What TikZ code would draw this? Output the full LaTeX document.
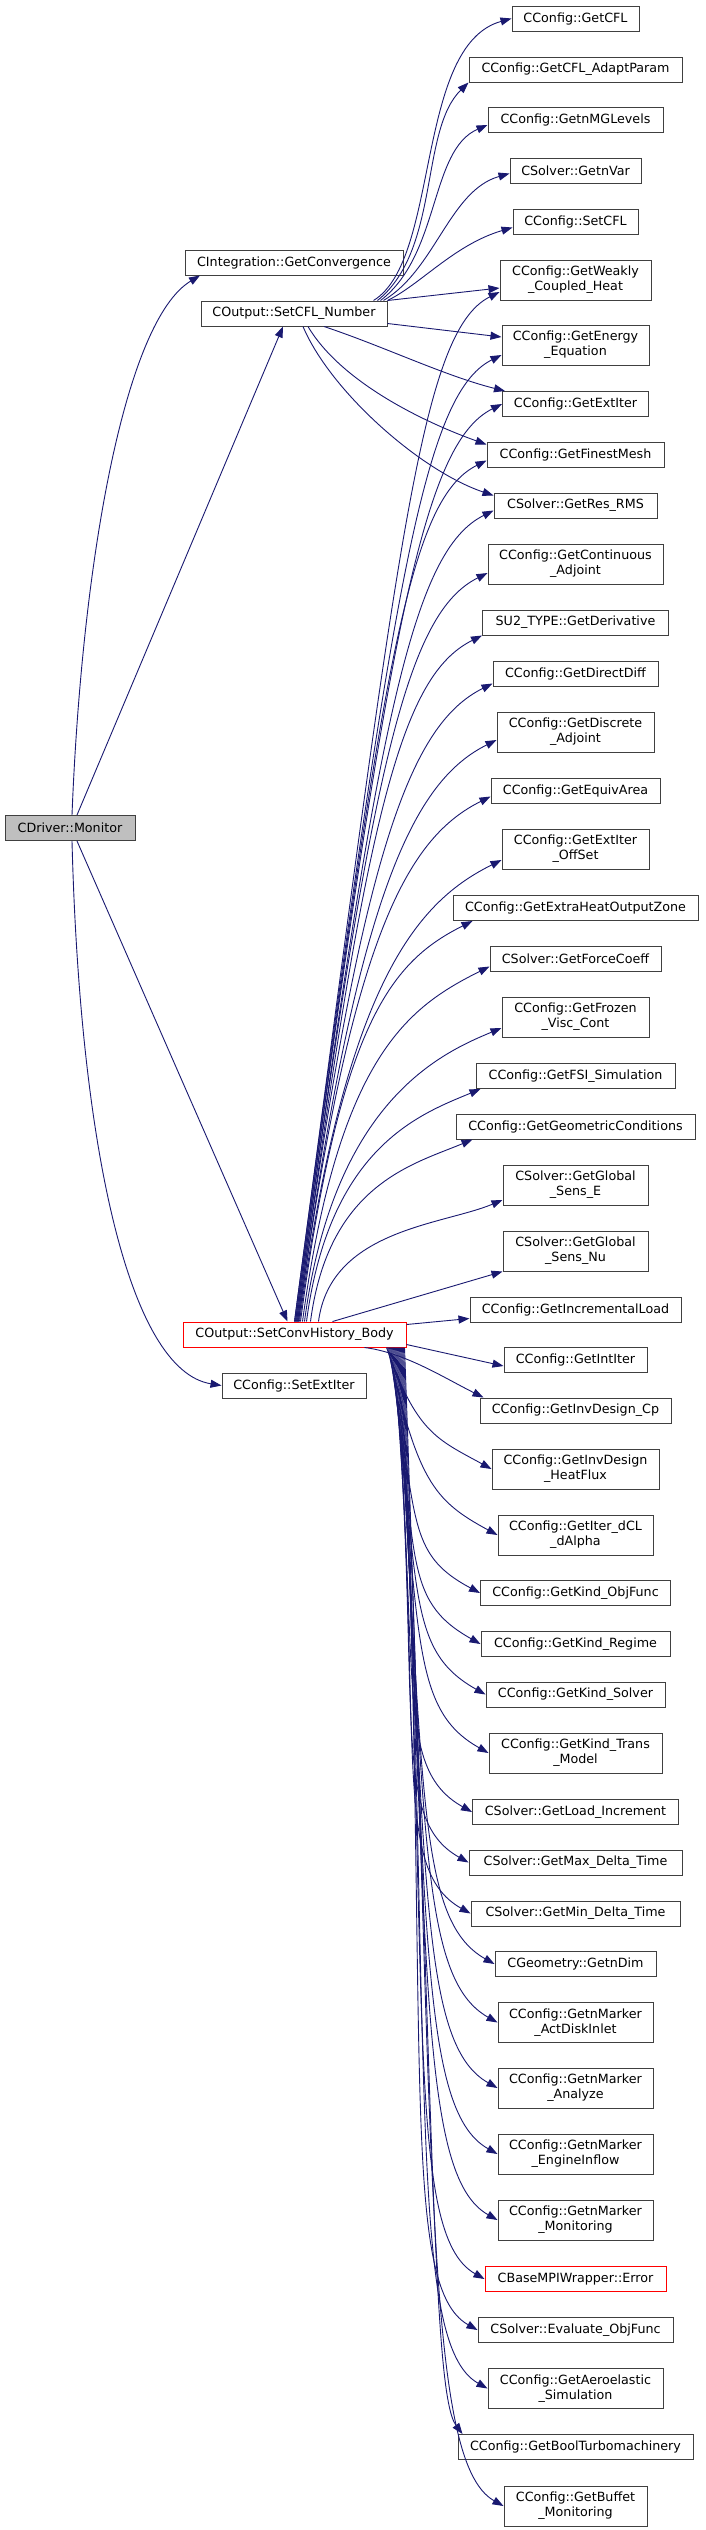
\documentclass[tikz,border=0pt]{standalone}
\usepackage{fontspec}
\newfontfamily\dxfont{DejaVu Sans}
\usetikzlibrary{arrows.meta}
\definecolor{dxblue}{RGB}{25, 25, 112}
\definecolor{dxgray}{RGB}{64, 64, 64}
\definecolor{dxred}{RGB}{255, 0, 0}
\definecolor{dxroot}{RGB}{191, 191, 191}

\tikzset{
  fn/.style={draw=dxgray, fill=white, line width=1pt, inner sep=0pt,
    minimum height=25pt, align=center,
    font=\dxfont\fontsize{12.7}{15}\selectfont},
  fntwo/.style={fn, minimum height=40pt},
  fntrunc/.style={fn, draw=dxred},
  fnroot/.style={fn, fill=dxroot},
  call/.style={->, draw=dxblue, line width=0.9pt}
}

\begin{document}
\begin{tikzpicture}[x=1pt, y=-1pt, >={Triangle[length=11pt, width=8pt]}]

\useasboundingbox (0,0) rectangle (705,2530);

% ============================================================
% CALLERS (left and middle)
% ============================================================

\node[fnroot, minimum width=130pt] (monitor) at (70,828) {CDriver::Monitor};
\node[fn, minimum width=218pt] (conv) at (294,262.5) {CIntegration::GetConvergence};
\node[fn, minimum width=186pt] (setcfl) at (294,313.5) {COutput::SetCFL\_Number};
\node[fntrunc, minimum width=223pt] (hist) at (294.5,1334.5) {COutput::SetConvHistory\_Body};
\node[fn, minimum width=144pt] (setext) at (294,1385.5) {CConfig::SetExtIter};

% ============================================================
% CALLEES (right column)
% ============================================================

\node[fn, minimum width=127pt] (cfl) at (575.5,18.5) {CConfig::GetCFL};
\node[fn, minimum width=213pt] (cfladapt) at (575.5,69.5) {CConfig::GetCFL\_AdaptParam};
\node[fn, minimum width=175pt] (nmg) at (575.5,120) {CConfig::GetnMGLevels};
\node[fn, minimum width=131pt] (nvar) at (575.5,170.5) {CSolver::GetnVar};
\node[fn, minimum width=125pt] (setcflc) at (575.5,221.5) {CConfig::SetCFL};
\node[fntwo, minimum width=151pt] (weakly) at (575.5,280) {CConfig::GetWeakly\\\_Coupled\_Heat};
\node[fntwo, minimum width=147pt] (energy) at (575.5,345) {CConfig::GetEnergy\\\_Equation};
\node[fn, minimum width=146pt] (extiter) at (575.5,404) {CConfig::GetExtIter};
\node[fn, minimum width=177pt] (finest) at (575.5,454.5) {CConfig::GetFinestMesh};
\node[fn, minimum width=163pt] (resrms) at (575.5,505.5) {CSolver::GetRes\_RMS};
\node[fntwo, minimum width=175pt] (contadj) at (575.5,564) {CConfig::GetContinuous\\\_Adjoint};
\node[fn, minimum width=186pt] (deriv) at (575.5,622.5) {SU2\_TYPE::GetDerivative};
\node[fn, minimum width=165pt] (directdiff) at (575.5,673.5) {CConfig::GetDirectDiff};
\node[fntwo, minimum width=157pt] (discadj) at (575.5,732) {CConfig::GetDiscrete\\\_Adjoint};
\node[fn, minimum width=169pt] (equiv) at (575.5,790.5) {CConfig::GetEquivArea};
\node[fntwo, minimum width=147pt] (extoff) at (575.5,849) {CConfig::GetExtIter\\\_OffSet};
\node[fn, minimum width=245pt] (extraheat) at (575.5,908) {CConfig::GetExtraHeatOutputZone};
\node[fn, minimum width=171pt] (forcecoeff) at (575.5,958.5) {CSolver::GetForceCoeff};
\node[fntwo, minimum width=147pt] (frozen) at (575.5,1017) {CConfig::GetFrozen\\\_Visc\_Cont};
\node[fn, minimum width=199pt] (fsi) at (575.5,1076) {CConfig::GetFSI\_Simulation};
\node[fn, minimum width=239pt] (geomcond) at (575.5,1126.5) {CConfig::GetGeometricConditions};
\node[fntwo, minimum width=145pt] (senseE) at (575.5,1185) {CSolver::GetGlobal\\\_Sens\_E};
\node[fntwo, minimum width=145pt] (senseNu) at (575.5,1251) {CSolver::GetGlobal\\\_Sens\_Nu};
\node[fn, minimum width=211pt] (incload) at (575.5,1309.5) {CConfig::GetIncrementalLoad};
\node[fn, minimum width=143pt] (intiter) at (575.5,1360) {CConfig::GetIntIter};
\node[fn, minimum width=191pt] (invcp) at (575.5,1410.5) {CConfig::GetInvDesign\_Cp};
\node[fntwo, minimum width=167pt] (invheat) at (575.5,1469) {CConfig::GetInvDesign\\\_HeatFlux};
\node[fntwo, minimum width=155pt] (iterdcl) at (575.5,1535) {CConfig::GetIter\_dCL\\\_dAlpha};
\node[fn, minimum width=190pt] (objfunc) at (575.5,1593) {CConfig::GetKind\_ObjFunc};
\node[fn, minimum width=189pt] (regime) at (575.5,1644) {CConfig::GetKind\_Regime};
\node[fn, minimum width=179pt] (ksolver) at (575.5,1694.5) {CConfig::GetKind\_Solver};
\node[fntwo, minimum width=173pt] (trans) at (575.5,1753) {CConfig::GetKind\_Trans\\\_Model};
\node[fn, minimum width=206pt] (loadinc) at (575.5,1812) {CSolver::GetLoad\_Increment};
\node[fn, minimum width=213pt] (maxdt) at (575.5,1862.5) {CSolver::GetMax\_Delta\_Time};
\node[fn, minimum width=209pt] (mindt) at (575.5,1913.5) {CSolver::GetMin\_Delta\_Time};
\node[fn, minimum width=161pt] (ndim) at (575.5,1964) {CGeometry::GetnDim};
\node[fntwo, minimum width=155pt] (actdisk) at (575.5,2022.5) {CConfig::GetnMarker\\\_ActDiskInlet};
\node[fntwo, minimum width=155pt] (analyze) at (575.5,2088) {CConfig::GetnMarker\\\_Analyze};
\node[fntwo, minimum width=155pt] (engine) at (575.5,2154) {CConfig::GetnMarker\\\_EngineInflow};
\node[fntwo, minimum width=155pt] (mrkmon) at (575.5,2220) {CConfig::GetnMarker\\\_Monitoring};
\node[fntrunc, minimum width=181pt] (mpierr) at (575.5,2279) {CBaseMPIWrapper::Error};
\node[fn, minimum width=195pt] (evalobj) at (575.5,2330) {CSolver::Evaluate\_ObjFunc};
\node[fntwo, minimum width=175pt] (aeroel) at (575.5,2388.5) {CConfig::GetAeroelastic\\\_Simulation};
\node[fn, minimum width=235pt] (turbo) at (575.5,2447) {CConfig::GetBoolTurbomachinery};
\node[fntwo, minimum width=143pt] (buffet) at (575.5,2506) {CConfig::GetBuffet\\\_Monitoring};

% ============================================================
% CDriver::Monitor
% ============================================================

\draw[call] ([xshift=2pt]monitor.north) .. controls +(10,-255) and +(-75,45) .. ([xshift=-94pt]conv.south);
\draw[call] ([xshift=7pt]monitor.north) -- ([xshift=-11pt]setcfl.south);
\draw[call] ([xshift=7pt]monitor.south) -- ([xshift=-7pt]hist.north);
\draw[call] ([xshift=2pt]monitor.south) .. controls +(8,309) and +(-92,-15) .. (setext.west);

% ============================================================
% COutput::SetCFL_Number
% ============================================================

\draw[call] ([xshift=-14pt]setcfl.north east) .. controls +(67,-41) and +(-97,27) .. (cfl.west);
\draw[call] ([xshift=-10pt]setcfl.north east) .. controls +(63,-51) and +(-49,48) .. (cfladapt.south west);
\draw[call] ([xshift=-7pt]setcfl.north east) .. controls +(60,-46) and +(-58,25) .. ([yshift=-5pt]nmg.west);
\draw[call] ([xshift=-4pt]setcfl.north east) .. controls +(52,-31) and +(-60,17) .. ([yshift=-3pt]nvar.west);
\draw[call] (setcfl.north east) .. controls +(33,-16) and +(-58,17) .. ([yshift=-6pt]setcflc.west);
\draw[call] (setcfl.north east) -- ([yshift=-8pt]weakly.west);
\draw[call] ([yshift=-10pt]setcfl.east) -- ([yshift=8pt]energy.west);
\draw[call] ([xshift=30pt]setcfl.south) .. controls +(60,20) and +(-60,-15) .. ([xshift=3pt]extiter.north west);
\draw[call] ([xshift=14pt]setcfl.south) .. controls +(32,54) and +(-67,-24) .. ([yshift=10pt]finest.west);
\draw[call] ([xshift=9pt]setcfl.south) .. controls +(27,64) and +(-74,-25) .. ([yshift=10pt]resrms.west);

% ============================================================
% COutput::SetConvHistory_Body -- upwards
% ============================================================

\draw[call] (hist.north) .. controls +(103,-773) and +(-80,40) .. ([yshift=-12pt]weakly.west);
\draw[call] (hist.north) .. controls +(97,-725) and +(-80,40) .. ([yshift=-10pt]energy.west);
\draw[call] ([xshift=1pt]hist.north) .. controls +(92,-689) and +(-80,40) .. (extiter.west);
\draw[call] ([xshift=1pt]hist.north) .. controls +(86,-646) and +(-80,40) .. ([yshift=-6pt]finest.west);
\draw[call] ([xshift=2pt]hist.north) .. controls +(81,-609) and +(-80,40) .. ([yshift=-5pt]resrms.west);
\draw[call] ([xshift=2pt]hist.north) .. controls +(75,-562) and +(-80,40) .. ([yshift=-9pt]contadj.west);
\draw[call] ([xshift=3pt]hist.north) .. controls +(69,-515) and +(-80,40) .. (deriv.south west);
\draw[call] ([xshift=3pt]hist.north) .. controls +(64,-479) and +(-80,40) .. ([yshift=3pt]directdiff.south west);
\draw[call] ([xshift=4pt]hist.north) .. controls +(58,-437) and +(-80,40) .. ([yshift=-8pt]discadj.west);
\draw[call] ([xshift=4pt]hist.north) .. controls +(53,-394) and +(-80,40) .. ([yshift=-6pt]equiv.west);
\draw[call] ([xshift=5pt]hist.north) .. controls +(46,-347) and +(-80,40) .. ([yshift=-11pt]extoff.west);
\draw[call] ([xshift=6pt]hist.north) .. controls +(40,-301) and +(-80,40) .. ([xshift=20pt]extraheat.south west);
\draw[call] ([xshift=8pt]hist.north) .. controls +(36,-267) and +(-80,40) .. ([yshift=-8pt]forcecoeff.west);
\draw[call] ([xshift=10pt]hist.north) .. controls +(29,-221) and +(-60,25) .. ([yshift=-11pt]frozen.west);
\draw[call] ([xshift=12pt]hist.north) .. controls +(23,-175) and +(-60,25) .. ([xshift=5pt]fsi.south west);
\draw[call] ([xshift=16pt]hist.north) .. controls +(18,-137) and +(-60,25) .. ([xshift=17pt]geomcond.south west);
\draw[call] ([xshift=24pt]hist.north) .. controls +(12,-92) and +(-60,25) .. ([yshift=-15pt]senseE.west);
\draw[call] ([xshift=38pt]hist.north) -- (senseNu.south west);
\draw[call] ([yshift=10pt]hist.east) -- ([yshift=4pt]incload.south west);
\draw[call] ([yshift=-10pt]hist.east) -- ([yshift=-6pt]intiter.west);
\draw[call] ([xshift=70pt]hist.south) .. controls +(40,5) and +(-40,-20) .. ([xshift=4pt]invcp.north west);

% ============================================================
% COutput::SetConvHistory_Body -- downwards
% ============================================================

\draw[call] ([xshift=92pt]hist.south) .. controls +(30,85) and +(-55,-30) .. (invheat.west);
\draw[call] ([xshift=93pt]hist.south) .. controls +(30,132) and +(-65,-35) .. (iterdcl.west);
\draw[call] ([xshift=94pt]hist.south) .. controls +(30,172) and +(-75,-40) .. (objfunc.west);
\draw[call] ([xshift=95pt]hist.south) .. controls +(30,208) and +(-80,-45) .. (regime.west);
\draw[call] ([xshift=96pt]hist.south) .. controls +(30,243) and +(-80,-45) .. (ksolver.west);
\draw[call] ([xshift=97pt]hist.south) .. controls +(30,284) and +(-80,-45) .. (trans.west);
\draw[call] ([xshift=98pt]hist.south) .. controls +(30,326) and +(-80,-45) .. (loadinc.west);
\draw[call] ([xshift=99pt]hist.south) .. controls +(30,361) and +(-80,-45) .. (maxdt.west);
\draw[call] ([xshift=100pt]hist.south) .. controls +(30,397) and +(-80,-45) .. (mindt.west);
\draw[call] ([xshift=101pt]hist.south) .. controls +(30,432) and +(-80,-45) .. (ndim.west);
\draw[call] ([xshift=102pt]hist.south) .. controls +(30,473) and +(-80,-45) .. (actdisk.west);
\draw[call] ([xshift=103pt]hist.south) .. controls +(30,519) and +(-80,-45) .. (analyze.west);
\draw[call] ([xshift=104pt]hist.south) .. controls +(30,565) and +(-80,-45) .. (engine.west);
\draw[call] ([xshift=105pt]hist.south) .. controls +(30,611) and +(-80,-45) .. (mrkmon.west);
\draw[call] ([xshift=106pt]hist.south) .. controls +(30,652) and +(-80,-45) .. (mpierr.west);
\draw[call] ([xshift=107pt]hist.south) .. controls +(30,688) and +(-80,-45) .. (evalobj.west);
\draw[call] ([xshift=108pt]hist.south) .. controls +(30,729) and +(-80,-45) .. (aeroel.west);
\draw[call] ([xshift=109pt]hist.south) .. controls +(30,770) and +(-30,-40) .. ([xshift=5pt]turbo.north west);
\draw[call] ([xshift=110pt]hist.south) .. controls +(30,811) and +(-80,-45) .. (buffet.west);

\end{tikzpicture}
\end{document}
